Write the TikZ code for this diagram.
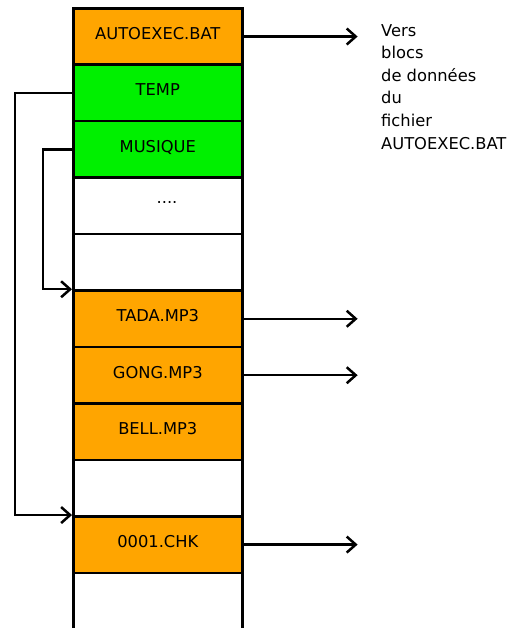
\documentclass[tikz,border=0pt]{standalone}
\usepackage{fontspec}
\setmainfont{DejaVu Sans}
\usetikzlibrary{arrows.meta}
\definecolor{ora}{RGB}{255,165,0}
\definecolor{grn}{RGB}{0,240,0}
\begin{document}
\begin{tikzpicture}[x=1pt,y=-1pt,
  cell/.style={draw=black,line width=2.6pt,minimum width=169pt,minimum height=56.45pt,inner sep=0pt,anchor=north west,text height=12pt,text depth=6pt,font=\fontsize{16.3}{18}\selectfont},
  link/.style={line width=2.3pt,-{Straight Barb[length=9pt,width=16pt,line width=2.5pt]}}]
\useasboundingbox (0,0) rectangle (511,628);
\node[cell,fill=ora] (r0) at (72,7) {AUTOEXEC.BAT};
\node[cell,fill=grn] (r1) at (72,63.45) {TEMP};
\node[cell,fill=grn] (r2) at (72,119.9) {MUSIQUE};
\node[cell] (r3) at (72,176.35) {};
\node[cell] (r4) at (72,232.8) {};
\node[cell,fill=ora] (r5) at (72,289.25) {TADA.MP3};
\node[cell,fill=ora] (r6) at (72,345.7) {GONG.MP3};
\node[cell,fill=ora] (r7) at (72,402.15) {BELL.MP3};
\node[cell] (r8) at (72,458.6) {};
\node[cell,fill=ora] (r9) at (72,515.05) {0001.CHK};
\node[cell] (r10) at (72,571.5) {};
\node[font=\fontsize{16.3}{18}\selectfont] (dots) at (167,202) {....};
\coordinate (e0) at ([xshift=114pt]r0.east);
\coordinate (e5) at ([xshift=114pt]r5.east);
\coordinate (e6) at ([xshift=114pt]r6.east);
\coordinate (e9) at ([xshift=114pt]r9.east);
\draw[link] (r0.east) -- (e0);
\draw[link] (r5.east) -- (e5);
\draw[link] (r6.east) -- (e6);
\draw[link] (r9.east) -- (e9);
\coordinate (a1) at ([xshift=-57pt]r1.west);
\coordinate (a2) at ([xshift=-57pt]r9.north west);
\draw[link] (r1.west) -- (a1) -- (a2) -- (r9.north west);
\coordinate (b1) at ([xshift=-29pt]r2.west);
\coordinate (b2) at ([xshift=-29pt]r5.north west);
\draw[link] (r2.west) -- (b1) -- (b2) -- (r5.north west);
\node[anchor=north west,align=left,inner sep=0pt,font=\fontsize{16.3}{22.6}\selectfont] (txt) at (381,24) {Vers\\blocs\\de données\\du\\fichier\\AUTOEXEC.BAT};
\end{tikzpicture}
\end{document}
